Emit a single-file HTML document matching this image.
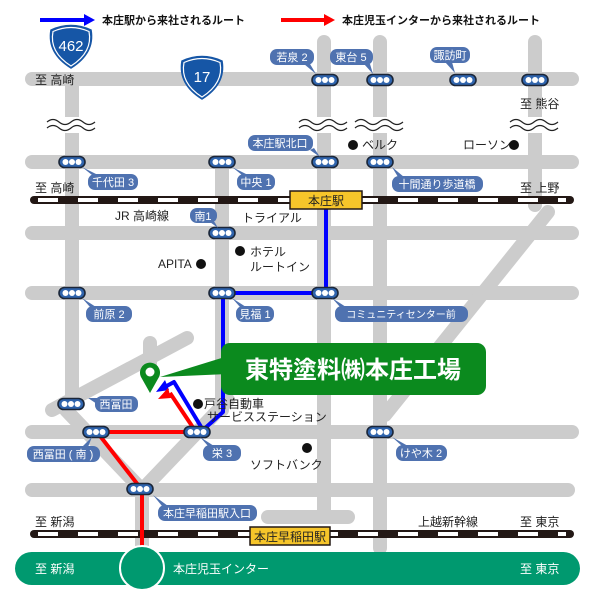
<!DOCTYPE html>
<html><head><meta charset="utf-8"><style>
html,body{margin:0;padding:0;background:#fff;}
svg{display:block;font-family:"Liberation Sans","Noto Sans CJK JP",sans-serif;}
.t{font-size:12px;fill:#222;}
.l{font-size:11px;fill:#fff;}
</style></head><body>
<svg width="600" height="600" viewBox="0 0 600 600" xmlns="http://www.w3.org/2000/svg">
<defs>
<g id="sig"><rect x="-13" y="-5.5" width="26" height="11" rx="5.5" fill="#2f64ad" stroke="#1b2638" stroke-width="1.6"/><circle cx="-6.5" cy="0" r="3" fill="#fff"/><circle cx="0" cy="0" r="3" fill="#fff"/><circle cx="6.5" cy="0" r="3" fill="#fff"/></g>
<g id="wave"><path d="M-25,-3 q6,-5 12,0 t12,0 t12,0 t12,0" fill="none" stroke="#222" stroke-width="1.2"/><path d="M-25,3 q6,-5 12,0 t12,0 t12,0 t12,0" fill="none" stroke="#222" stroke-width="1.2"/></g>
</defs>
<!-- roads -->
<g stroke="#cccccc" stroke-width="14" stroke-linecap="round" fill="none">
<line x1="32" y1="79" x2="572" y2="79"/>
<line x1="32" y1="162" x2="572" y2="162"/>
<line x1="32" y1="233" x2="572" y2="233"/>
<line x1="32" y1="293" x2="572" y2="293"/>
<line x1="32" y1="432" x2="572" y2="432"/>
<line x1="32" y1="490" x2="568" y2="490"/>
<line x1="268" y1="517" x2="348" y2="517"/>
<line x1="72" y1="79" x2="72" y2="400"/>
<line x1="324" y1="42" x2="324" y2="517"/>
<line x1="380" y1="42" x2="380" y2="548"/>
<line x1="535" y1="42" x2="535" y2="205"/>
<line x1="222" y1="162" x2="222" y2="410"/>
<line x1="548" y1="212" x2="385" y2="415"/>
<line x1="52" y1="410" x2="187" y2="338"/>
<line x1="150" y1="343" x2="150" y2="366"/>
<line x1="142" y1="490" x2="66" y2="410"/>
<line x1="142" y1="490" x2="228" y2="400"/>
<line x1="142" y1="490" x2="142" y2="548"/>
</g>
<!-- waves -->
<g transform="translate(72,125)"><rect x="-26" y="-8" width="52" height="16" fill="#fff"/><use href="#wave"/></g>
<g transform="translate(324,125)"><rect x="-26" y="-8" width="52" height="16" fill="#fff"/><use href="#wave"/></g>
<g transform="translate(380,125)"><rect x="-26" y="-8" width="52" height="16" fill="#fff"/><use href="#wave"/></g>
<g transform="translate(535,125)"><rect x="-26" y="-8" width="52" height="16" fill="#fff"/><use href="#wave"/></g>
<!-- legend -->
<line x1="40" y1="20" x2="86" y2="20" stroke="#0000ff" stroke-width="4"/><polygon points="84,14 95,20 84,26" fill="#0000ff"/>
<text x="102" y="24" style="font-size:11px;font-weight:bold" fill="#111">本庄駅から来社されるルート</text>
<line x1="281" y1="20" x2="326" y2="20" stroke="#ff0000" stroke-width="4"/><polygon points="324,14 335,20 324,26" fill="#ff0000"/>
<text x="342" y="24" style="font-size:11px;font-weight:bold" fill="#111">本庄児玉インターから来社されるルート</text>
<!-- shields -->
<path d="M51,30 Q71,21 91,30 Q95,53 71,68 Q47,53 51,30Z" fill="#1656a6" stroke="#1656a6" stroke-width="1.5"/>
<path d="M53,31.5 Q71,23.5 89,31.5 Q93,52 71,66 Q49,52 53,31.5Z" fill="none" stroke="#fff" stroke-width="1.2"/>
<text x="71" y="51" text-anchor="middle" style="font-size:15px" fill="#fff">462</text>
<path d="M182,61 Q202,52 222,61 Q226,84 202,99 Q178,84 182,61Z" fill="#1656a6" stroke="#1656a6" stroke-width="1.5"/>
<path d="M184,62.5 Q202,54.5 220,62.5 Q224,83 202,97 Q180,83 184,62.5Z" fill="none" stroke="#fff" stroke-width="1.2"/>
<text x="202" y="82" text-anchor="middle" style="font-size:15px" fill="#fff">17</text>
<!-- railways -->
<g>
<line x1="34" y1="200" x2="570" y2="200" stroke="#231815" stroke-width="8" stroke-linecap="round"/>
<line x1="38" y1="200" x2="566" y2="200" stroke="#fff" stroke-width="4" stroke-dasharray="20,20"/>
<line x1="34" y1="534" x2="570" y2="534" stroke="#231815" stroke-width="8" stroke-linecap="round"/>
<line x1="38" y1="534" x2="566" y2="534" stroke="#fff" stroke-width="4" stroke-dasharray="20,20"/>
</g>
<!-- routes -->
<g fill="none" stroke-width="4" stroke-linejoin="round">
<polyline points="142,548 142,490 97,432 196,432 170,393" stroke="#ff0000"/>
<polyline points="326,208 326,293 223,293 223,412 203,430 174,382 163,388" stroke="#0000ff"/>
</g>
<polygon points="156,392 165,380 169,390" fill="#0000ff"/>
<polygon points="158,399 168,388 171,398" fill="#ff0000"/>
<!-- station signs -->
<rect x="290" y="191" width="72" height="18" fill="#f6c52a" stroke="#231815" stroke-width="1.5"/>
<text x="326" y="205" text-anchor="middle" class="t">本庄駅</text>
<rect x="250" y="527" width="80" height="18" fill="#f6c52a" stroke="#231815" stroke-width="1.5"/>
<text x="290" y="541" text-anchor="middle" class="t">本庄早稲田駅</text>
<!-- highway -->
<rect x="15" y="552" width="565" height="33" rx="16.5" fill="#00996f"/>
<circle cx="142" cy="568" r="22" fill="#00996f" stroke="#fff" stroke-width="2"/>
<text x="35" y="573" style="font-size:12px" fill="#fff">至 新潟</text>
<text x="173" y="573" style="font-size:12px" fill="#fff">本庄児玉インター</text>
<text x="520" y="573" style="font-size:12px" fill="#fff">至 東京</text>
<!-- signals -->
<use href="#sig" x="325" y="80"/><use href="#sig" x="380" y="80"/><use href="#sig" x="463" y="80"/><use href="#sig" x="535" y="80"/>
<use href="#sig" x="72" y="162"/><use href="#sig" x="222" y="162"/><use href="#sig" x="325" y="162"/><use href="#sig" x="380" y="162"/>
<use href="#sig" x="222" y="233"/>
<use href="#sig" x="72" y="293"/><use href="#sig" x="222" y="293"/><use href="#sig" x="325" y="293"/>
<use href="#sig" x="71" y="404"/><use href="#sig" x="96" y="432"/><use href="#sig" x="197" y="432"/><use href="#sig" x="380" y="432"/><use href="#sig" x="140" y="489"/>
<!-- labels -->
<g fill="#4f72b0">
<rect x="270" y="49" width="44" height="16" rx="7"/><polygon points="304,64 310,64 316,74"/>
<rect x="330" y="49" width="43" height="16" rx="7"/><polygon points="364,64 370,64 373,74"/>
<rect x="430" y="47" width="40" height="16" rx="7"/><polygon points="445,62 452,62 455,73"/>
<rect x="248" y="135" width="65" height="16" rx="7"/><polygon points="310,150 314,148 320,157"/>
<rect x="88" y="174" width="50" height="16" rx="7"/><polygon points="92,175 98,175 82,167"/>
<rect x="237" y="174" width="38" height="16" rx="7"/><polygon points="242,175 248,175 232,167"/>
<rect x="392" y="176" width="91" height="16" rx="7"/><polygon points="398,177 404,177 392,167"/>
<rect x="190" y="208" width="27" height="15" rx="7"/><polygon points="210,222 214,221 218,228"/>
<rect x="86" y="306" width="46" height="16" rx="7"/><polygon points="90,307 96,307 82,298"/>
<rect x="236" y="306" width="38" height="16" rx="7"/><polygon points="240,307 246,307 232,298"/>
<rect x="335" y="306" width="133" height="16" rx="7"/><polygon points="340,307 346,307 332,298"/>
<rect x="95" y="396" width="43" height="16" rx="7"/><polygon points="97,398 97,404 88,398"/>
<rect x="27" y="446" width="73" height="16" rx="7"/><polygon points="82,447 88,447 92,437"/>
<rect x="203" y="445" width="38" height="16" rx="7"/><polygon points="208,446 214,446 200,437"/>
<rect x="396" y="445" width="51" height="16" rx="7"/><polygon points="402,446 408,446 392,437"/>
<rect x="158" y="505" width="99" height="16" rx="7"/><polygon points="162,506 168,506 153,495"/>
</g>
<g class="l">
<text x="292" y="61" text-anchor="middle">若泉 2</text>
<text x="351" y="61" text-anchor="middle">東台 5</text>
<text x="450" y="59" text-anchor="middle">諏訪町</text>
<text x="280" y="147" text-anchor="middle">本庄駅北口</text>
<text x="113" y="186" text-anchor="middle">千代田 3</text>
<text x="256" y="186" text-anchor="middle">中央 1</text>
<text x="437" y="188" text-anchor="middle">十間通り歩道橋</text>
<text x="203" y="220" text-anchor="middle">南1</text>
<text x="109" y="318" text-anchor="middle">前原 2</text>
<text x="255" y="318" text-anchor="middle">見福 1</text>
<text x="401" y="318" text-anchor="middle" style="font-size:10px">コミュニティセンター前</text>
<text x="116" y="408" text-anchor="middle">西冨田</text>
<text x="63" y="458" text-anchor="middle">西冨田 ( 南 )</text>
<text x="222" y="457" text-anchor="middle">栄 3</text>
<text x="421" y="457" text-anchor="middle">けや木 2</text>
<text x="207" y="517" text-anchor="middle">本庄早稲田駅入口</text>
</g>
<!-- text -->
<g class="t">
<text x="35" y="84">至 高崎</text>
<text x="520" y="108">至 熊谷</text>
<text x="35" y="192">至 高崎</text>
<text x="520" y="192">至 上野</text>
<text x="115" y="220">JR 高崎線</text>
<text x="242" y="222">トライアル</text>
<text x="250" y="256">ホテル</text>
<text x="250" y="271">ルートイン</text>
<text x="158" y="268">APITA</text>
<text x="362" y="149">ベルク</text>
<text x="463" y="149">ローソン</text>
<text x="204" y="408">戸谷自動車</text>
<text x="207" y="421">サービスステーション</text>
<text x="250" y="469">ソフトバンク</text>
<text x="35" y="526">至 新潟</text>
<text x="418" y="526">上越新幹線</text>
<text x="520" y="526">至 東京</text>
</g>
<g fill="#111">
<circle cx="353" cy="145" r="5"/><circle cx="514" cy="145" r="5"/>
<circle cx="240" cy="251" r="5"/><circle cx="201" cy="264" r="5"/>
<circle cx="198" cy="404" r="5"/><circle cx="307" cy="448" r="5"/>
</g>
<!-- callout -->
<polygon points="160,377 228,356 228,374" fill="#0b8a1e"/>
<rect x="221" y="343" width="265" height="52" rx="9" fill="#0b8a1e"/>
<text x="353" y="378" text-anchor="middle" style="font-size:24px;font-weight:bold" fill="#fff">東特塗料㈱本庄工場</text>
<!-- pin -->
<path d="M150,393 L141,377 A10,10 0 1 1 159,377 Z" fill="#0b8a1e"/>
<circle cx="150" cy="372" r="4.5" fill="#fff"/>
</svg>
</body></html>
